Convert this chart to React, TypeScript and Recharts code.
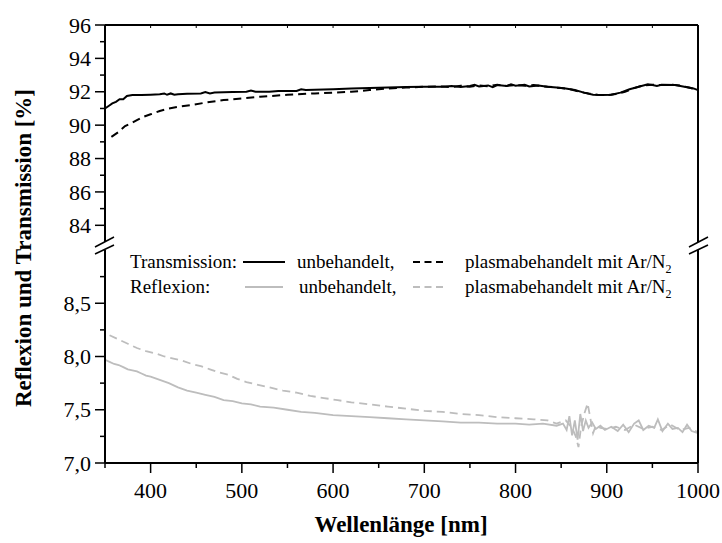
import React from 'react';
import { Line, LineChart, XAxis, YAxis } from 'recharts';

// Transmission [%], untreated sample
const transNm = [
  350, 354, 358, 362, 366, 370, 374, 380, 390, 400, 410, 415, 418, 422, 426, 430, 440, 455, 460, 465,
  470, 490, 505, 510, 515, 530, 540, 560, 565, 570, 580, 600, 620, 640, 660, 680, 700, 720, 730, 740,
  750, 755, 760, 770, 775, 780, 790, 795, 800, 810, 815, 825, 835, 845, 855, 865, 875, 885, 895, 905,
  915, 925, 935, 945, 950, 955, 960, 975, 985, 995, 1000
];
const transUntreated = [
  91.0, 91.15, 91.3, 91.4, 91.55, 91.55, 91.75, 91.8, 91.8, 91.82, 91.85, 91.9, 91.82, 91.9, 91.82, 91.85, 91.88, 91.9, 91.98, 91.9,
  91.95, 91.98, 92.0, 92.08, 92.0, 92.0, 92.05, 92.05, 92.15, 92.1, 92.12, 92.15, 92.2, 92.22, 92.25, 92.28, 92.3, 92.3, 92.35, 92.28,
  92.35, 92.42, 92.32, 92.38, 92.28, 92.4, 92.34, 92.45, 92.36, 92.42, 92.32, 92.38, 92.3, 92.25, 92.2, 92.1, 91.95, 91.82, 91.8, 91.82,
  91.95, 92.15, 92.3, 92.45, 92.4, 92.35, 92.42, 92.4, 92.3, 92.2, 92.1
];

// Transmission [%], plasma treated with Ar/N2
const transPlasmaNm = [
  357, 365, 372, 380, 385, 392, 400, 410, 420, 430, 445, 460, 480, 500, 520, 550, 580, 600, 620, 640,
  660, 680, 700, 720, 730, 740, 750, 760, 770, 780, 790, 800, 810, 820, 830, 840, 850, 860, 870, 880,
  890, 900, 910, 920, 930, 940, 950, 960, 970, 980, 990, 1000
];
const transPlasma = [
  89.3, 89.6, 89.95, 90.15, 90.3, 90.5, 90.65, 90.85, 91.0, 91.1, 91.2, 91.35, 91.5, 91.6, 91.7, 91.82, 91.9, 91.95, 92.0, 92.1,
  92.2, 92.25, 92.3, 92.32, 92.28, 92.36, 92.3, 92.38, 92.33, 92.42, 92.35, 92.4, 92.36, 92.4, 92.33, 92.28, 92.22, 92.15, 92.0, 91.9,
  91.82, 91.8, 91.86, 92.0, 92.22, 92.38, 92.42, 92.4, 92.42, 92.38, 92.25, 92.12
];

// Reflexion [%], untreated sample
const reflNm = [
  350, 355, 360, 365, 370, 375, 380, 385, 390, 395, 400, 410, 420, 430, 440, 450, 460, 470, 480, 490,
  500, 510, 520, 535, 550, 565, 580, 600, 620, 640, 660, 680, 700, 720, 740, 760, 780, 800, 815, 830,
  845, 852, 856, 859, 862, 865, 868, 871, 874, 877, 880, 884, 888, 893, 898, 905, 912, 918, 924, 930,
  935, 940, 946, 952, 956, 961, 967, 972, 978, 983, 988, 993, 1000
];
const reflUntreated = [
  7.97, 7.95, 7.93, 7.92, 7.9, 7.88, 7.87, 7.86, 7.84, 7.82, 7.81, 7.78, 7.75, 7.71, 7.68, 7.66, 7.64, 7.62, 7.59, 7.58,
  7.56, 7.55, 7.53, 7.52, 7.5, 7.48, 7.47, 7.45, 7.44, 7.43, 7.42, 7.41, 7.4, 7.39, 7.38, 7.38, 7.37, 7.37, 7.36, 7.37,
  7.35, 7.37, 7.31, 7.44, 7.26, 7.4, 7.22, 7.46, 7.3, 7.4, 7.33, 7.38, 7.32, 7.35, 7.31, 7.34, 7.3, 7.36, 7.29, 7.37,
  7.4, 7.31, 7.35, 7.33, 7.41, 7.3, 7.37, 7.32, 7.33, 7.29, 7.36, 7.3, 7.28
];

// Reflexion [%], plasma treated with Ar/N2
const reflPlasmaNm = [
  355, 365, 375, 385, 395, 405, 415, 425, 435, 445, 455, 465, 475, 485, 495, 505, 515, 530, 545, 560,
  575, 590, 605, 620, 640, 660, 680, 700, 720, 740, 760, 780, 800, 820, 835, 845, 855, 862, 866, 869,
  872, 876, 879, 882, 885, 888, 893, 900, 910, 920, 930, 940, 950, 960, 970, 980, 990, 1000
];
const reflPlasma = [
  8.2, 8.16, 8.12, 8.08, 8.05, 8.03, 8.0, 7.98, 7.96, 7.93, 7.91, 7.88, 7.85, 7.83, 7.79, 7.76, 7.74, 7.71, 7.68, 7.66,
  7.63, 7.61, 7.59, 7.57, 7.55, 7.53, 7.51, 7.49, 7.48, 7.46, 7.45, 7.43, 7.42, 7.41, 7.4, 7.37, 7.4, 7.33, 7.25, 7.15,
  7.35, 7.48, 7.56, 7.42, 7.28, 7.35, 7.33, 7.32, 7.34, 7.31, 7.36, 7.32, 7.34, 7.31, 7.36, 7.31, 7.33, 7.29
];

const wavelengthTicks = [350, 400, 450, 500, 550, 600, 650, 700, 750, 800, 850, 900, 950, 1000];
const transTicks = [84, 85, 86, 87, 88, 89, 90, 91, 92, 93, 94, 95, 96];
const reflTicks = [7, 7.25, 7.5, 7.75, 8, 8.25, 8.5, 8.75];

const FONT = '"Liberation Serif", "Times New Roman", serif';
const GREY = '#bdbdbd';

const toPoints = (nm: number[], v: number[]) => nm.map((x, i) => ({ nm: x, v: v[i] }));

const isTransMajor = (v: number) => v % 2 === 0;
const isReflMajor = (v: number) => Math.abs(v * 2 - Math.round(v * 2)) < 1e-6;
const fmtComma = (v: number) => v.toFixed(1).replace('.', ',');

const leftTick = (isMajor: (v: number) => boolean, fmt: (v: number) => string) => (p: any) => {
  const { x, y, payload } = p;
  const major = isMajor(payload.value);
  return (
    <g>
      <line x1={x - (major ? 10 : 5)} x2={x} y1={y} y2={y} stroke="#000" strokeWidth={1.5} />
      {major && (
        <text x={x - 14} y={y} dy="0.35em" textAnchor="end" fontSize={22} fontFamily={FONT} fill="#000">
          {fmt(payload.value)}
        </text>
      )}
    </g>
  );
};

const rightTick = (isMajor: (v: number) => boolean) => (p: any) => {
  const { x, y, payload } = p;
  const len = isMajor(payload.value) ? 8 : 5;
  return <line x1={x - len} x2={x} y1={y} y2={y} stroke="#000" strokeWidth={1.5} />;
};

const topTick = (p: any) => {
  const { x, y } = p;
  return <line x1={x} x2={x} y1={y} y2={y + 3} stroke="#000" strokeWidth={1} />;
};

const bottomTick = (p: any) => {
  const { x, y, payload } = p;
  const major = payload.value % 100 === 0;
  return (
    <g>
      <line x1={x} x2={x} y1={y} y2={y + (major ? 10 : 5)} stroke="#000" strokeWidth={1.5} />
      {major && (
        <text x={x} y={y + 35} textAnchor="middle" fontSize={22} fontFamily={FONT} fill="#000">
          {payload.value}
        </text>
      )}
    </g>
  );
};

const axisLine = { stroke: '#000', strokeWidth: 2 };

const Overlay = () => (
  <svg width={722} height={543} style={{ position: 'absolute', left: 0, top: 0, pointerEvents: 'none' }} fontFamily={FONT}>
    {/* axis break marks */}
    <g stroke="#000" strokeWidth={1.5}>
      <line x1={95} y1={247} x2={114} y2={237} />
      <line x1={95} y1={254} x2={114} y2={245} />
      <line x1={689} y1={247} x2={708} y2={237} />
      <line x1={689} y1={254} x2={708} y2={245} />
    </g>

    <text x={23} y={248} transform="rotate(-90 23 248)" textAnchor="middle" dy="0.35em" fontSize={23} fontWeight="bold">
      Reflexion und Transmission [%]
    </text>
    <text x={401} y={532} textAnchor="middle" fontSize={23} fontWeight="bold">
      Wellenlänge [nm]
    </text>

    {/* legend */}
    <g fontSize={19} fill="#000">
      <text x={130} y={268}>Transmission:</text>
      <line x1={243} x2={285} y1={262} y2={262} stroke="#000" strokeWidth={2} />
      <text x={297} y={268}>unbehandelt,</text>
      <line x1={413} x2={443} y1={262} y2={262} stroke="#000" strokeWidth={2} strokeDasharray="7 4.5" />
      <text x={465} y={268}>
        plasmabehandelt mit Ar/N<tspan fontSize={12} dy={5}>2</tspan>
      </text>

      <text x={130} y={293}>Reflexion:</text>
      <line x1={245} x2={283} y1={287} y2={287} stroke={GREY} strokeWidth={2} />
      <text x={299} y={293}>unbehandelt,</text>
      <line x1={413} x2={443} y1={287} y2={287} stroke={GREY} strokeWidth={2} strokeDasharray="7 4.5" />
      <text x={465} y={293}>
        plasmabehandelt mit Ar/N<tspan fontSize={12} dy={5}>2</tspan>
      </text>
    </g>
  </svg>
);

export default function App() {
  return (
    <div style={{ position: 'absolute', left: 0, top: 0, width: 722, height: 543, background: '#fff' }}>
      {/* upper panel: transmission */}
      <div style={{ position: 'absolute', left: 0, top: 0 }}>
        <LineChart width={722} height={250} margin={{ top: 24, right: 0, bottom: 8, left: 0 }}>
          <XAxis
            dataKey="nm"
            type="number"
            orientation="top"
            height={1}
            domain={[350, 1000]}
            ticks={wavelengthTicks}
            interval={0}
            tickSize={0}
            tickMargin={0}
            tickLine={false}
            axisLine={axisLine}
            tick={topTick}
          />
          <YAxis
            yAxisId="l"
            width={105}
            domain={[83, 96]}
            ticks={transTicks}
            interval={0}
            tickSize={0}
            tickMargin={0}
            tickLine={false}
            axisLine={axisLine}
            tick={leftTick(isTransMajor, (v) => String(v))}
          />
          <YAxis
            yAxisId="r"
            orientation="right"
            width={24}
            domain={[83, 96]}
            ticks={transTicks}
            interval={0}
            tickSize={0}
            tickMargin={0}
            tickLine={false}
            axisLine={axisLine}
            tick={rightTick(isTransMajor)}
          />
          <Line
            yAxisId="l"
            data={toPoints(transPlasmaNm, transPlasma)}
            dataKey="v"
            type="linear"
            stroke="#000"
            strokeWidth={2}
            strokeDasharray="8 5"
            dot={false}
            isAnimationActive={false}
          />
          <Line
            yAxisId="l"
            data={toPoints(transNm, transUntreated)}
            dataKey="v"
            type="linear"
            stroke="#000"
            strokeWidth={2}
            dot={false}
            isAnimationActive={false}
          />
        </LineChart>
      </div>

      {/* lower panel: reflexion */}
      <div style={{ position: 'absolute', left: 0, top: 240 }}>
        <LineChart width={722} height={303} margin={{ top: 10, right: 0, bottom: 0, left: 0 }}>
          <XAxis
            dataKey="nm"
            type="number"
            height={80}
            domain={[350, 1000]}
            ticks={wavelengthTicks}
            interval={0}
            tickSize={0}
            tickMargin={0}
            tickLine={false}
            axisLine={axisLine}
            tick={bottomTick}
          />
          <YAxis
            yAxisId="l"
            width={105}
            domain={[7, 9]}
            ticks={reflTicks}
            interval={0}
            tickSize={0}
            tickMargin={0}
            tickLine={false}
            axisLine={axisLine}
            tick={leftTick(isReflMajor, fmtComma)}
          />
          <YAxis
            yAxisId="r"
            orientation="right"
            width={24}
            domain={[7, 9]}
            ticks={reflTicks}
            interval={0}
            tickSize={0}
            tickMargin={0}
            tickLine={false}
            axisLine={axisLine}
            tick={rightTick(isReflMajor)}
          />
          <Line
            yAxisId="l"
            data={toPoints(reflPlasmaNm, reflPlasma)}
            dataKey="v"
            type="linear"
            stroke={GREY}
            strokeWidth={1.8}
            strokeDasharray="8 5"
            dot={false}
            isAnimationActive={false}
          />
          <Line
            yAxisId="l"
            data={toPoints(reflNm, reflUntreated)}
            dataKey="v"
            type="linear"
            stroke={GREY}
            strokeWidth={1.8}
            dot={false}
            isAnimationActive={false}
          />
        </LineChart>
      </div>

      <Overlay />
    </div>
  );
}
